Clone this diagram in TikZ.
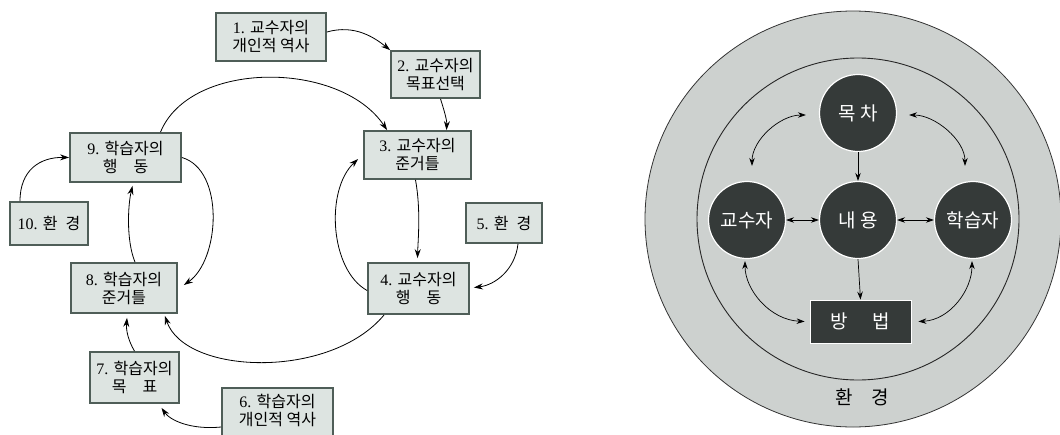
\documentclass[tikz,border=0pt]{standalone}
\usepackage{fontspec}
\setmainfont{Liberation Serif}
\newfontfamily\kr{Noto Sans CJK KR}
\newcommand\hk[1]{{\kr #1}}
\usetikzlibrary{arrows.meta,calc}
\definecolor{boxfill}{HTML}{DDE4E1}
\definecolor{boxline}{HTML}{4F5E58}
\definecolor{envfill}{HTML}{CDD1CF}
\definecolor{darkfill}{HTML}{353A39}
\begin{document}
\begin{tikzpicture}[x=1pt,y=-1pt,
  box/.style={draw=boxline, fill=boxfill, line width=1.8pt, inner sep=0pt, align=center,
    font=\fontsize{16}{18}\selectfont},
  arr/.style={-{Stealth[length=9pt,width=6pt]}, line width=0.8pt},
  darr/.style={{Stealth[length=8pt,width=5.5pt]}-{Stealth[length=8pt,width=5.5pt]}, line width=0.7pt},
  sarr/.style={-{Stealth[length=8pt,width=5.5pt]}, line width=0.7pt},
  dot/.style={circle, fill=darkfill, draw=white, line width=1.2pt, minimum size=77pt, inner sep=0pt,
    text=white, font=\kr\fontsize{19}{22}\selectfont}]
\useasboundingbox (0,0) rectangle (1060,434);

% ---------- left diagram ----------
\node[box, minimum width=110pt, minimum height=48pt] (b1) at (271,37) {1. \hk{교수자의}\\\hk{개인적 역사}};
\node[box, minimum width=89pt, minimum height=47pt] (b2) at (435.5,74.5) {2. \hk{교수자의}\\\hk{목표선택}};
\node[box, minimum width=107pt, minimum height=48pt] (b3) at (417.5,155) {3. \hk{교수자의}\\\hk{준거틀}};
\node[box, minimum width=111pt, minimum height=49pt] (b9) at (125.5,157.5) {9. \hk{학습자의}\\\hk{행\hspace{1em}동}};
\node[box, minimum width=78pt, minimum height=43pt] (b10) at (49,223.5) {10. \hk{환\hspace{0.5em}경}};
\node[box, minimum width=76pt, minimum height=40pt] (b5) at (504,223) {5. \hk{환\hspace{0.5em}경}};
\node[box, minimum width=106pt, minimum height=50pt] (b8) at (124,288) {8. \hk{학습자의}\\\hk{준거틀}};
\node[box, minimum width=101pt, minimum height=51pt] (b4) at (418.5,288.5) {4. \hk{교수자의}\\\hk{행\hspace{1em}동}};
\node[box, minimum width=89pt, minimum height=51pt] (b7) at (134.5,377.5) {7. \hk{학습자의}\\\hk{목\hspace{1em}표}};
\node[box, minimum width=111pt, minimum height=54pt, anchor=north] (b6) at (277.5,387) {\rule{0pt}{0pt}\\[-13pt]6. \hk{학습자의}\\\hk{개인적 역사}};

\draw[arr] ($(b1.east)+(0,-5)$) .. controls (355,24) and (375,38) .. (b2.north west);
\draw[arr] ($(b2.south)+(5,0)$) .. controls (444,110) and (447,120) .. ($(b3.north)+(29,0)$);
\draw[arr] ($(b9.north)+(35,0)$) .. controls (190,60) and (340,60) .. ($(b3.north west)+(24,0)$);
\draw[arr] ($(b10.north)+(-29,0)$) .. controls (20,170) and (40,157) .. (b9.west);
\draw[arr] (b9.east) .. controls (225,170) and (220,260) .. ($(b8.east)+(6,-3)$);
\draw[arr] ($(b8.north)+(11,0)$) .. controls (126,240) and (128,205) .. ($(b9.south)+(7,3)$);
\draw[arr] ($(b4.west)+(0,2)$) .. controls (330,270) and (325,190) .. ($(b3.west)+(-5,4)$);
\draw[arr] ($(b3.south)+(-2,0)$) .. controls (421,210) and (418,240) .. ($(b4.north)+(-1,-4)$);
\draw[arr] ($(b5.south)+(14,0)$) .. controls (515,270) and (495,285) .. ($(b4.east)+(4,-1)$);
\draw[arr] ($(b4.south west)+(17,0)$) .. controls (330,380) and (185,375) .. ($(b8.south east)+(-13,2)$);
\draw[arr] (b7.north) .. controls (128,340) and (126,330) .. ($(b8.south)+(3,4)$);
\draw[arr] ($(b6.north west)+(0,40)$) .. controls (190,430) and (170,420) .. ($(b7.south)+(27,4)$);

% ---------- right diagram ----------
\node[circle, fill=envfill, draw=black!80, line width=0.8pt, minimum size=416pt, inner sep=0pt] (outer) at (853,219) {};
\node[circle, draw=black!85, line width=0.9pt, minimum size=322pt, inner sep=0pt] (inner) at (858,219) {};
\node[font=\kr\fontsize{19}{22}\selectfont] (env) at (862,397) {환\hspace{1em}경};

\node[dot] (mok) at (858,113) {목 차};
\node[dot] (gyo) at (747,220) {교수자};
\node[dot] (nae) at (858,220) {내 용};
\node[dot] (hak) at (973,220) {학습자};
\node[rectangle, fill=darkfill, draw=white, line width=0.8pt, minimum width=101pt, minimum height=43pt, inner sep=0pt,
  text=white, font=\kr\fontsize{19}{22}\selectfont] (bang) at (860.5,321.5) {방\hspace{1.3em}법};

\draw[darr] ($(mok.west)+(-13,2)$) .. controls (780,115) and (752,140) .. ($(gyo.north)+(5,-15)$);
\draw[darr] ($(mok.east)+(12,2)$) .. controls (935,115) and (965,140) .. ($(hak.north)+(-8,-15)$);
\draw[sarr] (mok.south) -- (nae.north);
\draw[darr] (gyo.east) -- (nae.west);
\draw[darr] (nae.east) -- (hak.west);
\draw[sarr] (nae.south) -- (bang.north);
\draw[darr] ($(gyo.south)+(-2,2)$) .. controls (745,290) and (770,320) .. ($(bang.west)+(-5,0)$);
\draw[darr] ($(hak.south)+(-1,2)$) .. controls (972,290) and (950,320) .. ($(bang.east)+(7,0)$);
\end{tikzpicture}
\end{document}
